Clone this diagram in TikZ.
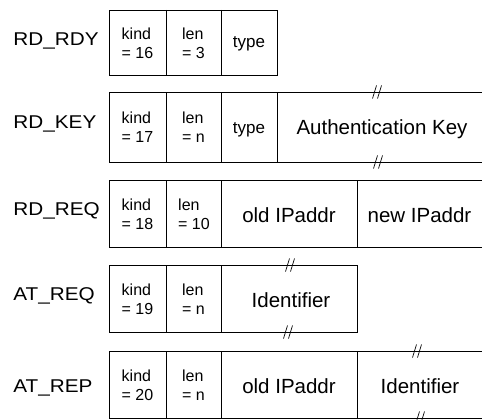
\documentclass[tikz,border=0pt]{standalone}
\usepackage{fontspec}
\setmainfont{Liberation Sans}
\newfontfamily\lblfont[FakeStretch=1.12]{Liberation Sans}
\begin{document}
\begin{tikzpicture}[x=1pt,y=-1pt, line width=0.9pt,
  msg/.style={anchor=base west, font=\lblfont\fontsize{18.5}{21}\selectfont, inner sep=0pt},
  small/.style={align=left, font=\fontsize{16}{19}\selectfont, inner sep=0pt},
  field/.style={anchor=base, font=\fontsize{20.5}{24}\selectfont, inner sep=0pt},
  typ/.style={anchor=base, font=\fontsize{17}{20}\selectfont, inner sep=0pt},
  brk/.pic={\draw[line width=0.7pt] (-4.5,6.5)--(-0.5,-6.5) (0.5,6.5)--(4.5,-6.5);}]
\useasboundingbox (0,0) rectangle (482,420);

% Row 1: RD_RDY
\node[msg] (l1) at (13,46) {RD\_RDY};
\draw (109,10) rectangle (277,75);
\draw (166,10)--(166,75) (221,10)--(221,75);
\node[small] (k1) at (137.5,43) {kind\\= 16};
\node[small] (n1) at (193.5,43) {len\\= 3};
\node[typ] (t1) at (249,48) {type};

% Row 2: RD_KEY
\node[msg] (l2) at (13,128) {RD\_KEY};
\draw (482,92)--(109,92)--(109,162)--(482,162);
\draw (166,92)--(166,162) (221,92)--(221,162) (277,92)--(277,162);
\node[small] (k2) at (137.5,127.5) {kind\\= 17};
\node[small] (n2) at (193.5,127.5) {len\\= n};
\node[typ] (t2) at (249,133) {type};
\node[field] (a2) at (382,134) {Authentication Key};
\pic at (377,92) {brk};
\pic at (378,162) {brk};

% Row 3: RD_REQ
\node[msg] (l3) at (13,215) {RD\_REQ};
\draw (482,180)--(109,180)--(109,247)--(482,247);
\draw (166,180)--(166,247) (221,180)--(221,247) (357,180)--(357,247);
\node[small] (k3) at (137.5,214) {kind\\= 18};
\node[small] (n3) at (194,214) {len\\= 10};
\node[field] (o3) at (289,222) {old IPaddr};
\node[field] (w3) at (419.5,222) {new IPaddr};

% Row 4: AT_REQ
\node[msg] (l4) at (13,300) {AT\_REQ};
\draw (109,265) rectangle (357,332);
\draw (166,265)--(166,332) (221,265)--(221,332);
\node[small] (k4) at (137.5,299) {kind\\= 19};
\node[small] (n4) at (193.5,299) {len\\= n};
\node[field] (i4) at (291,307) {Identifier};
\pic at (290,265) {brk};
\pic at (288,332) {brk};

% Row 5: AT_REP
\node[msg] (l5) at (13,392) {AT\_REP};
\draw (482,351)--(109,351)--(109,418)--(482,418);
\draw (166,351)--(166,418) (221,351)--(221,418) (357,351)--(357,418);
\node[small] (k5) at (137.5,385) {kind\\= 20};
\node[small] (n5) at (193.5,385) {len\\= n};
\node[field] (o5) at (289,393) {old IPaddr};
\node[field] (i5) at (420,393) {Identifier};
\pic at (417,351) {brk};
\pic at (420,418) {brk};
\end{tikzpicture}
\end{document}
